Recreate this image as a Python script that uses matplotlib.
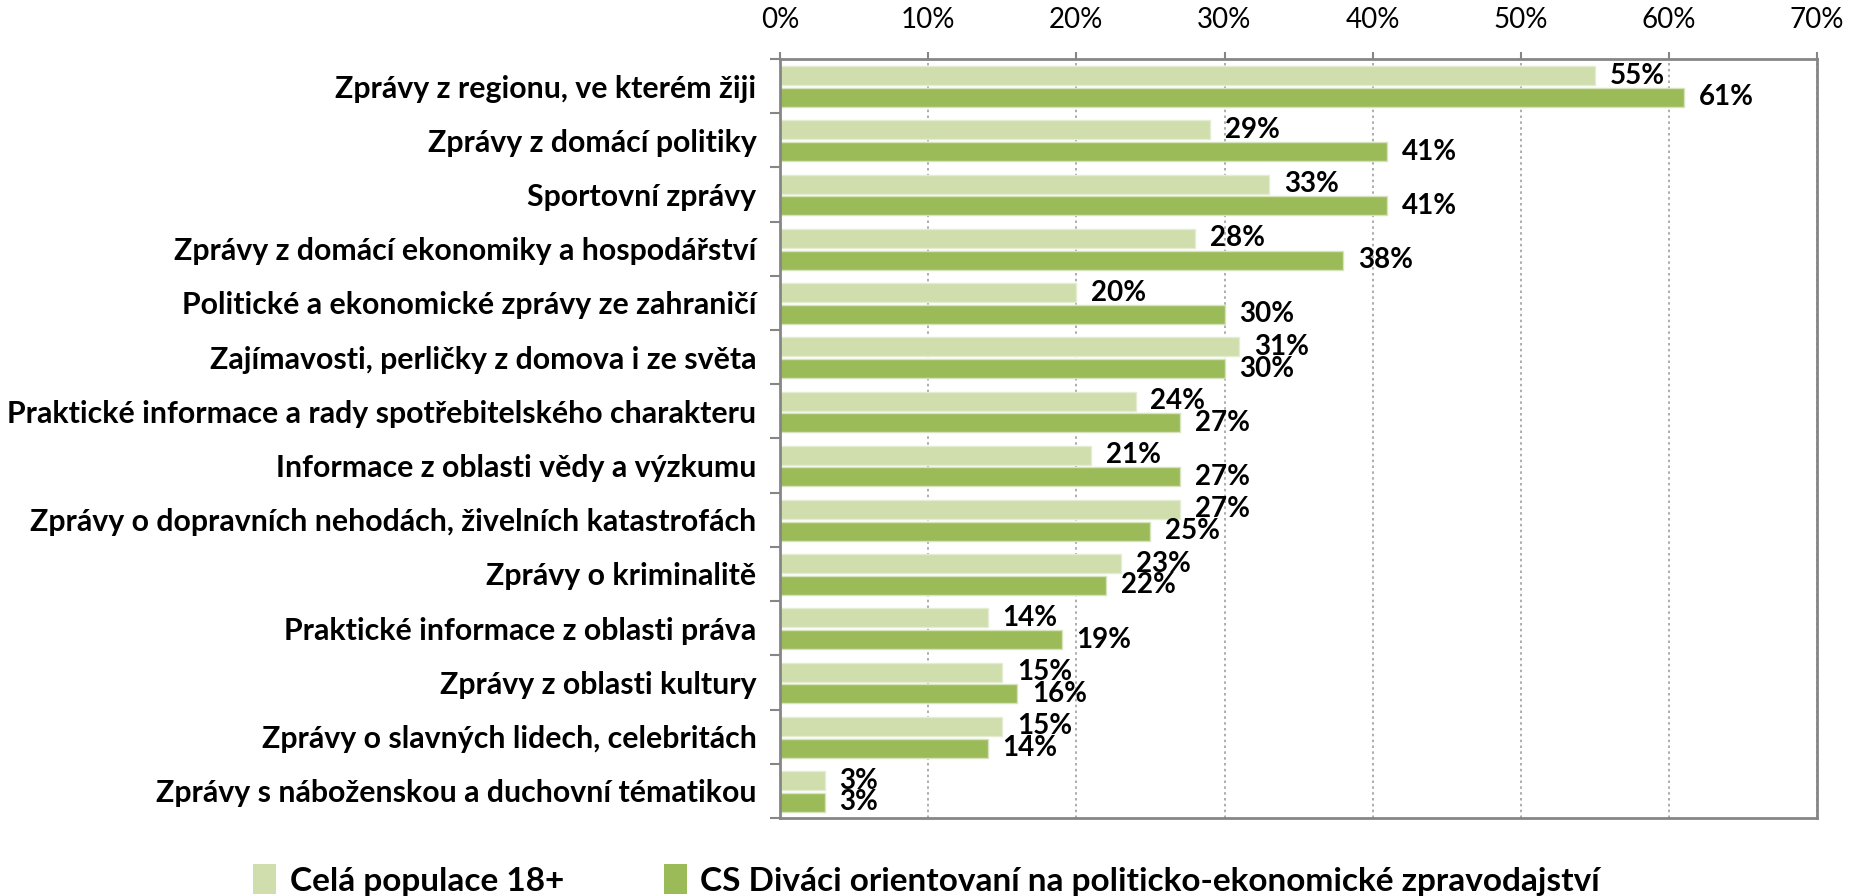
import numpy as np
import matplotlib
matplotlib.use("Agg")
import matplotlib.pyplot as plt
from matplotlib.patches import Patch
from matplotlib.ticker import FixedLocator, PercentFormatter

plt.rcParams['font.family'] = ['Lato', 'DejaVu Sans']

categories = [
    "Zprávy z regionu, ve kterém žiji",
    "Zprávy z domácí politiky",
    "Sportovní zprávy",
    "Zprávy z domácí ekonomiky a hospodářství",
    "Politické a ekonomické zprávy ze zahraničí",
    "Zajímavosti, perličky z domova i ze světa",
    "Praktické informace a rady spotřebitelského charakteru",
    "Informace z oblasti vědy a výzkumu",
    "Zprávy o dopravních nehodách, živelních katastrofách",
    "Zprávy o kriminalitě",
    "Praktické informace z oblasti práva",
    "Zprávy z oblasti kultury",
    "Zprávy o slavných lidech, celebritách",
    "Zprávy s náboženskou a duchovní tématikou",
]
population = [55, 29, 33, 28, 20, 31, 24, 21, 27, 23, 14, 15, 15, 3]
viewers = [61, 41, 41, 38, 30, 30, 27, 27, 25, 22, 19, 16, 14, 3]
series_names = ["Celá populace 18+",
                "CS Diváci orientovaní na politicko-ekonomické zpravodajství"]

LIGHT = "#D0DEAD"
DARK = "#9BBB59"
GRAY = "#868686"

fig = plt.figure(figsize=(18.53, 8.96), dpi=100)
ax = fig.add_axes([0.421, 0.0871, 0.5596, 0.8471])

y = np.arange(len(categories))
h = 0.35
off_a, off_b = -0.19, 0.21
ax.barh(y + off_a, population, height=h, color=LIGHT, edgecolor="#E4ECD2", linewidth=1)
ax.barh(y + off_b, viewers, height=h, color=DARK, edgecolor="#D6E3BC", linewidth=1)

# value labels just past the end of each bar
for i, (a, b) in enumerate(zip(population, viewers)):
    ax.text(a + 1.0, i + off_a, f"{a}%", va="center", ha="left",
            fontsize=20, fontweight="bold")
    ax.text(b + 1.0, i + off_b, f"{b}%", va="center", ha="left",
            fontsize=20, fontweight="bold")

ax.set_xlim(0, 70)
ax.set_ylim(len(categories) - 0.5, -0.5)
ax.xaxis.set_major_locator(FixedLocator(np.arange(0, 71, 10)))
ax.xaxis.set_major_formatter(PercentFormatter(decimals=0))
ax.xaxis.tick_top()
ax.tick_params(axis="x", direction="out", length=5, width=1.5, color=GRAY,
               labelsize=20, pad=14)

ax.set_yticks(y)
ax.set_yticklabels(categories, fontsize=21.8, fontweight="bold")
ax.yaxis.set_minor_locator(FixedLocator(np.arange(-0.5, len(categories), 1)))
ax.tick_params(axis="y", which="major", length=0, pad=17)
ax.tick_params(axis="y", which="minor", length=7, width=1.5, color=GRAY)

ax.grid(axis="x", color="#A0A0A0", linestyle=(0, (1.5, 2)), linewidth=1.2)
ax.set_axisbelow(True)
for side in ax.spines.values():
    side.set_color(GRAY)
    side.set_linewidth(2)

handles = [Patch(facecolor=LIGHT), Patch(facecolor=DARK)]
fig.legend(handles, series_names, loc="center", bbox_to_anchor=(0.5, 0.018),
           ncol=2, frameon=False, prop={"size": 24, "weight": "bold"},
           handlelength=0.7, handleheight=1.0, handletextpad=0.4,
           columnspacing=3.0)

fig.savefig("out.png", dpi=100)
